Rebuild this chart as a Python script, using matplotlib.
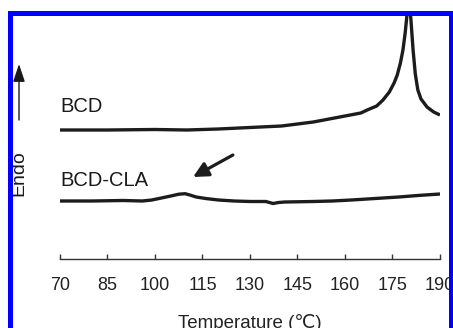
import matplotlib
matplotlib.use("Agg")
import matplotlib.pyplot as plt
from matplotlib.patches import Rectangle, FancyArrowPatch

plt.rcParams['font.family'] = ['Liberation Sans', 'DejaVu Sans']

# --- data ---
bcd_T = [70, 85, 100, 110, 120, 130, 140, 145, 150, 155, 160, 165, 167, 170, 172,
         174, 175.5, 176.5, 177.5, 178.3, 179, 179.7, 180.2, 180.8, 181.5, 182.2,
         183, 184, 185.9, 188, 190]
bcd_y = [129, 129, 129.5, 129, 130, 131.5, 133, 135, 137, 140, 143, 146, 149, 153, 159,
         167, 176, 184, 196, 209, 226, 248, 262, 240, 209, 185,
         169, 160, 152, 147, 144]

cla_T = [70, 80, 90, 96, 99, 102, 105, 107.5, 109.5, 111, 113, 116, 120, 125, 130, 135,
         137.3, 139, 141, 150, 156, 162, 167, 172, 177, 183, 190]
cla_y = [58, 58, 58.5, 58, 59, 61, 63, 64.8, 65.3, 64, 62, 60.5, 59, 58, 57.5, 57.5,
         55.5, 56.5, 57, 57.5, 58, 59, 60, 61, 62, 63.5, 65]

xticks = [70, 85, 100, 115, 130, 145, 160, 175, 190]
xtick_labels = ['70', '85', '100', '115', '130', '145', '160', '175', '190']

W, H = 453, 328
fig = plt.figure(figsize=(W / 100, H / 100), dpi=100)
ax = fig.add_axes([60 / W, (H - 259) / H, 380 / W, 244 / H])

line_color = '#1c1c1c'
ax.plot(bcd_T, bcd_y, color=line_color, lw=2.4, solid_capstyle='butt', solid_joinstyle='round')
ax.plot(cla_T, cla_y, color=line_color, lw=2.4, solid_capstyle='butt', solid_joinstyle='round')

ax.set_xlim(70, 190)
ax.set_ylim(0, 244)

for s in ['left', 'top', 'right']:
    ax.spines[s].set_visible(False)
ax.spines['bottom'].set_color('#333333')
ax.spines['bottom'].set_linewidth(1.0)
ax.set_yticks([])
ax.set_xticks(xticks)
ax.set_xticklabels(xtick_labels)
ax.tick_params(axis='x', direction='in', length=3.8, width=1.0, color='#333333',
               pad=13, labelsize=13, labelcolor='#222222')

ax.set_xlabel('Temperature (\u2103)', fontsize=13.5, color='#222222', va='baseline')
ax.xaxis.set_label_coords(0.5, -0.283)

# series labels
ax.text(70, 147, 'BCD', fontsize=14.5, color='#1a1a1a', ha='left', va='baseline')
ax.text(70, 73, 'BCD-CLA', fontsize=14.5, color='#1a1a1a', ha='left', va='baseline')

# arrow pointing to the CLA bump
ax.annotate('', xy=(112, 82), xytext=(124.6, 104),
            arrowprops=dict(arrowstyle='-|>,head_length=0.9,head_width=0.45',
                            color=line_color, lw=2.3, shrinkA=0, shrinkB=0))

# Endo arrow and label
fig.patches.append(FancyArrowPatch(
    (19 / W, 1 - 120 / H), (19 / W, 1 - 64 / H), transform=fig.transFigure,
    arrowstyle='-|>,head_length=0.9,head_width=0.3', color='#1a1a1a', lw=1.0,
    shrinkA=0, shrinkB=0, mutation_scale=12))
fig.text(19 / W, 1 - 173 / H, 'Endo', rotation=90, fontsize=14, color='#1a1a1a',
         ha='center', va='center')

# blue frame
fig.patches.append(Rectangle((9.5 / W, 1 - 330 / H), 441 / W, 317.5 / H,
                             transform=fig.transFigure, fill=False,
                             edgecolor='#0000ff', lw=3.6, clip_on=False, zorder=10))

fig.savefig('out.png', dpi=100)
